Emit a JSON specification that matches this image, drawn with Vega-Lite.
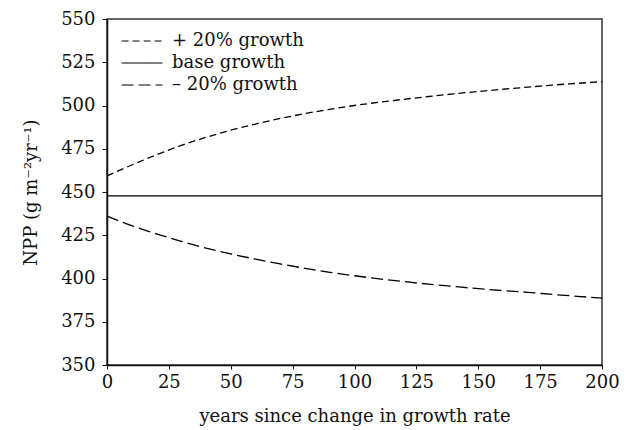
{
  "$schema": "https://vega.github.io/schema/vega-lite/v6.json",
  "width": 495,
  "height": 346,
  "autosize": {"type": "none"},
  "padding": {"left": 107, "top": 19, "right": 30, "bottom": 65},
  "background": "white",
  "config": {
    "font": "DejaVu Serif",
    "view": {"stroke": "#333", "strokeWidth": 1.5},
    "axis": {"grid": false, "domainColor": "#111", "domainWidth": 1.5, "tickColor": "#111", "labelFont": "DejaVu Serif", "titleFont": "DejaVu Serif", "labelFontSize": 18, "titleFontSize": 18, "labelColor": "#111", "titleColor": "#111", "titleFontWeight": "normal"},
    "legend": {"labelFont": "DejaVu Serif"}
  },
  "data": {
    "values": [
      {"t": 0, "s": "+ 20% growth", "v": 459.3}, {"t": 10, "s": "+ 20% growth", "v": 465.6}, {"t": 20, "s": "+ 20% growth", "v": 471.5}, {"t": 30, "s": "+ 20% growth", "v": 476.9}, {"t": 40, "s": "+ 20% growth", "v": 481.6}, {"t": 50, "s": "+ 20% growth", "v": 485.7}, {"t": 60, "s": "+ 20% growth", "v": 489.3}, {"t": 70, "s": "+ 20% growth", "v": 492.5}, {"t": 80, "s": "+ 20% growth", "v": 495.3}, {"t": 90, "s": "+ 20% growth", "v": 497.8}, {"t": 100, "s": "+ 20% growth", "v": 500.0}, {"t": 110, "s": "+ 20% growth", "v": 501.9}, {"t": 120, "s": "+ 20% growth", "v": 503.6}, {"t": 130, "s": "+ 20% growth", "v": 505.2}, {"t": 140, "s": "+ 20% growth", "v": 506.7}, {"t": 150, "s": "+ 20% growth", "v": 508.1}, {"t": 160, "s": "+ 20% growth", "v": 509.4}, {"t": 170, "s": "+ 20% growth", "v": 510.6}, {"t": 180, "s": "+ 20% growth", "v": 511.8}, {"t": 190, "s": "+ 20% growth", "v": 512.8}, {"t": 200, "s": "+ 20% growth", "v": 513.8},
      {"t": 0, "s": "base growth", "v": 447.8}, {"t": 200, "s": "base growth", "v": 447.8},
      {"t": 0, "s": "– 20% growth", "v": 436.1}, {"t": 10, "s": "– 20% growth", "v": 430.5}, {"t": 20, "s": "– 20% growth", "v": 425.8}, {"t": 30, "s": "– 20% growth", "v": 421.5}, {"t": 40, "s": "– 20% growth", "v": 417.6}, {"t": 50, "s": "– 20% growth", "v": 414.2}, {"t": 60, "s": "– 20% growth", "v": 411.2}, {"t": 70, "s": "– 20% growth", "v": 408.4}, {"t": 80, "s": "– 20% growth", "v": 405.9}, {"t": 90, "s": "– 20% growth", "v": 403.6}, {"t": 100, "s": "– 20% growth", "v": 401.6}, {"t": 110, "s": "– 20% growth", "v": 399.8}, {"t": 120, "s": "– 20% growth", "v": 398.2}, {"t": 130, "s": "– 20% growth", "v": 396.7}, {"t": 140, "s": "– 20% growth", "v": 395.4}, {"t": 150, "s": "– 20% growth", "v": 394.1}, {"t": 160, "s": "– 20% growth", "v": 393.0}, {"t": 170, "s": "– 20% growth", "v": 392.0}, {"t": 180, "s": "– 20% growth", "v": 390.8}, {"t": 190, "s": "– 20% growth", "v": 389.7}, {"t": 200, "s": "– 20% growth", "v": 388.6}
    ]
  },
  "mark": {"type": "line", "color": "black", "strokeWidth": 1.3, "interpolate": "monotone"},
  "encoding": {
    "x": {"field": "t", "type": "quantitative", "scale": {"domain": [0, 200], "nice": false}, "axis": {"values": [0, 25, 50, 75, 100, 125, 150, 175, 200], "title": "years since change in growth rate", "tickSize": 4, "labelPadding": 4, "titlePadding": 16, "labelFlush": false}},
    "y": {"field": "v", "type": "quantitative", "scale": {"domain": [350, 550], "nice": false, "zero": false}, "axis": {"values": [350, 375, 400, 425, 450, 475, 500, 525, 550], "title": "NPP (g m⁻²yr⁻¹)", "tickSize": 5, "labelPadding": 7, "titlePadding": 20, "labelFlush": false}},
    "strokeDash": {"field": "s", "type": "nominal", "scale": {"domain": ["+ 20% growth", "base growth", "– 20% growth"], "range": [[7, 4], [1, 0], [12, 5]]},
      "legend": {"title": null, "orient": "none", "legendX": 22, "legendY": 9, "symbolType": "M-1.7,0H1.7", "symbolSize": 576, "symbolStrokeWidth": 1.2, "symbolStrokeColor": "black", "symbolFillColor": "transparent", "labelFontSize": 18, "labelFont": "DejaVu Serif", "labelColor": "#111", "rowPadding": 0, "labelOffset": 17}}
  }
}
